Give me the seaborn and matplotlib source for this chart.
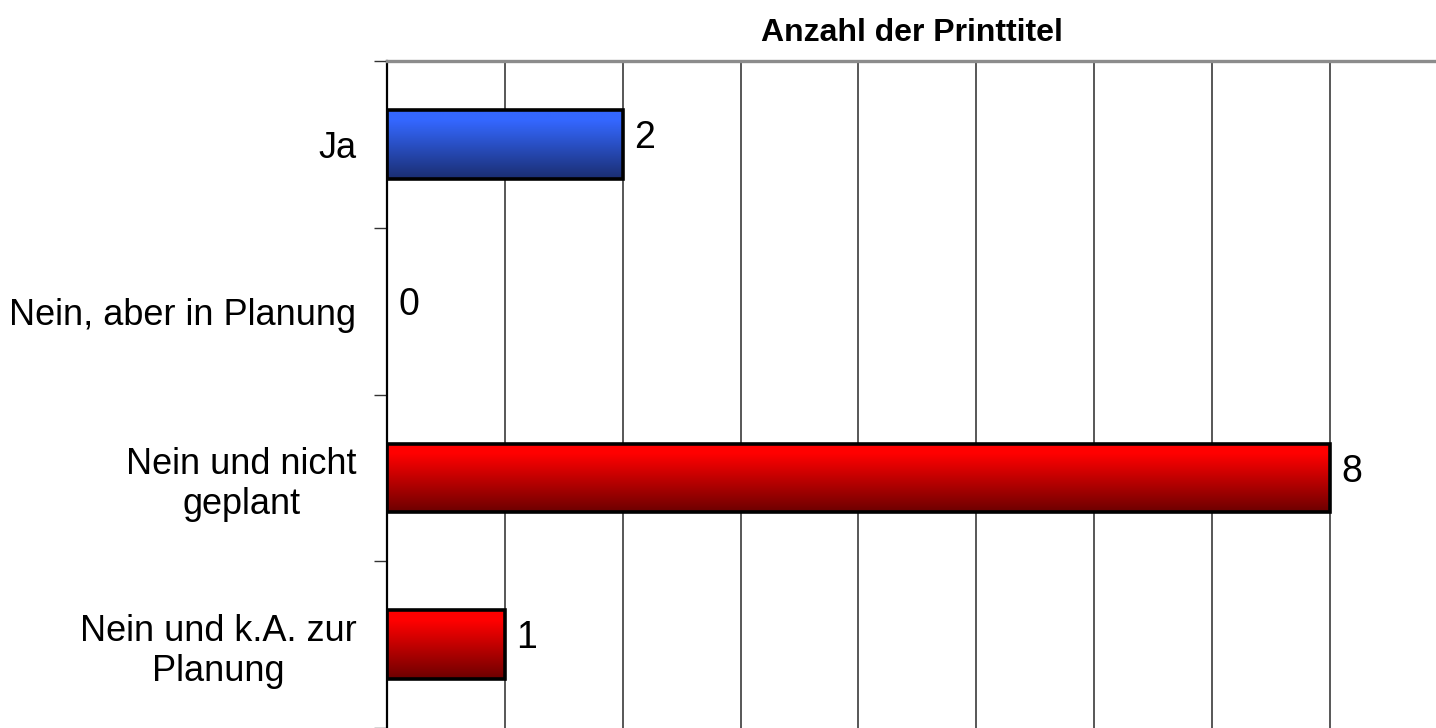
import matplotlib
matplotlib.use("Agg")
import matplotlib.pyplot as plt
from matplotlib.colors import LinearSegmentedColormap
import numpy as np
import pandas as pd
import seaborn as sns

categories = ["Ja", "Nein, aber in Planung", "Nein und nicht\ngeplant", "Nein und k.A. zur\nPlanung"]
counts = [2, 0, 8, 1]
groups = ["ja", "nein", "nein", "nein"]

title = "Anzahl der Printtitel"

# top / bottom colours of the gradient fill per group
grad_colors = {
    "ja": ("#3467ff", "#1a2d70"),
    "nein": ("#ff0000", "#6c0000"),
}

sns.set_style("white")
plt.rcParams["font.family"] = ["Liberation Sans", "DejaVu Sans"]
plt.rcParams["text.color"] = "black"
plt.rcParams["ytick.color"] = "black"
plt.rcParams["ytick.labelcolor"] = "black"

df = pd.DataFrame({"Kategorie": categories, "Anzahl": counts, "Gruppe": groups})

fig = plt.figure(figsize=(14.36, 7.28), dpi=100)
ax = fig.add_axes([387 / 1436, 0.0, 1 - 387 / 1436, (728 - 61) / 728])

sns.barplot(data=df, y="Kategorie", x="Anzahl", hue="Gruppe",
            palette={"ja": "#3467ff", "nein": "#ff0000"}, orient="h",
            width=0.41, dodge=False, legend=False, ax=ax,
            edgecolor="black", linewidth=2.6)

ax.set_xlim(0, 8.9)
ax.set_ylim(len(categories) - 0.5, -0.5)

# gradient fill, clipped to each bar
for bar in ax.patches:
    if bar.get_width() <= 0:
        bar.set_visible(False)
        continue
    grp = "ja" if bar.get_facecolor()[2] > 0.5 else "nein"
    top, bottom = grad_colors[grp]
    cmap = LinearSegmentedColormap.from_list("g", [(0, top), (0.15, top), (1, bottom)], N=256)
    x0, y0, w, h = bar.get_x(), bar.get_y(), bar.get_width(), bar.get_height()
    grad = np.linspace(0, 1, 256).reshape(-1, 1)
    im = ax.imshow(grad, cmap=cmap, aspect="auto", origin="upper",
                   extent=(x0, x0 + w, y0 + h, y0), zorder=bar.get_zorder())
    im.set_clip_path(bar)
    bar.set_facecolor("none")
    bar.set_zorder(bar.get_zorder() + 0.1)

ax.set_xlim(0, 8.9)
ax.set_ylim(len(categories) - 0.5, -0.5)

for c in ax.containers:
    for ann in ax.bar_label(c, fmt="%d", padding=8, fontsize=27, color="black"):
        ann.xyann = (8, 4.5)

# grid
ax.set_xticks(range(1, 9))
ax.set_xticklabels([])
ax.tick_params(axis="x", length=0)
ax.xaxis.grid(True, color="#4a4a4a", linewidth=1.3)
ax.set_axisbelow(True)

ax.set_yticks(range(len(categories)))
ax.set_yticklabels(categories, fontsize=26, multialignment="center")
ax.set_yticks(np.arange(-0.5, len(categories), 1.0), minor=True)
ax.tick_params(axis="y", which="major", left=False, length=0, pad=22)
ax.tick_params(axis="y", which="minor", left=True, length=9.5, width=1,
               color="#333333", direction="out")

ax.set_xlabel("")
ax.set_ylabel("")

for s in ["right", "bottom"]:
    ax.spines[s].set_visible(False)
ax.spines["left"].set_color("black")
ax.spines["left"].set_linewidth(1.6)
ax.spines["top"].set_color("#8c8c8c")
ax.spines["top"].set_linewidth(2.4)

fig.text((387 + 1436) / 2 / 1436, 1 - 33 / 728, title, ha="center", va="center",
         fontsize=23, fontweight="bold", color="black")

fig.savefig("out.png", dpi=100)
